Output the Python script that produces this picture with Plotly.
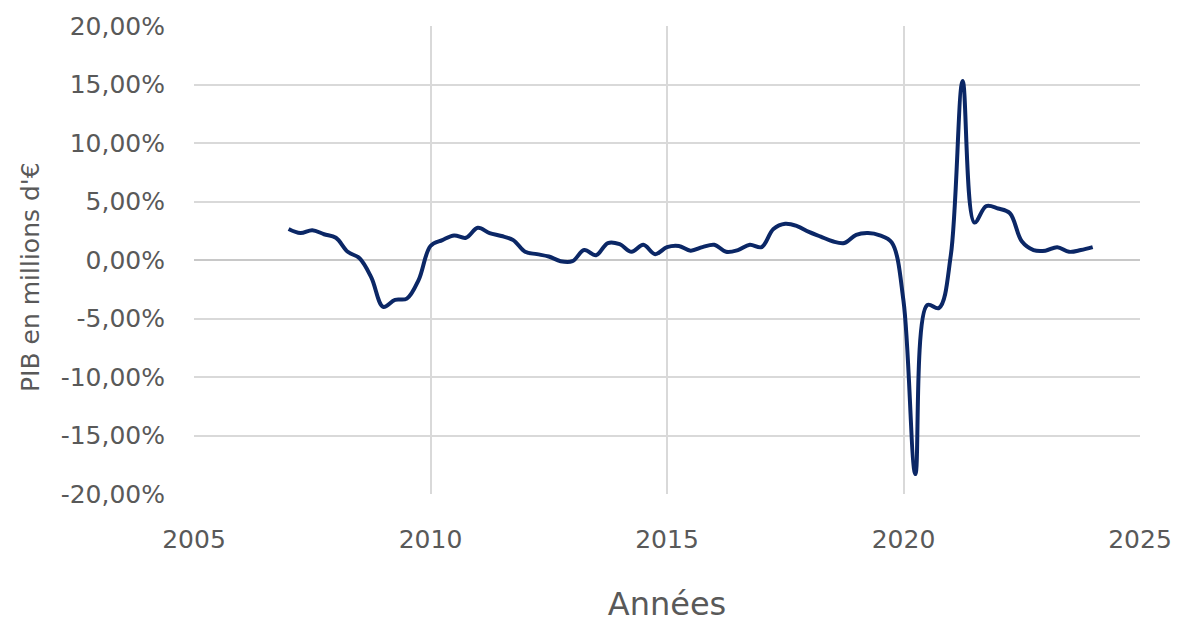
import plotly.graph_objects as go

# Trimestres de 2007 T1 à 2024 T1 (années décimales)
periodes = [a + t / 4 for a in range(2007, 2024) for t in range(4)] + [2024.0]

# Croissance du PIB en glissement annuel (%)
croissance = [
    2.65, 2.3, 2.55, 2.2,      # 2007
    1.9, 0.7, 0.15, -1.5,      # 2008
    -4.0, -3.4, -3.3, -1.7,    # 2009
    1.2, 1.7, 2.1, 1.9,        # 2010
    2.75, 2.3, 2.05, 1.7,      # 2011
    0.7, 0.5, 0.3, -0.1,       # 2012
    -0.1, 0.85, 0.4, 1.45,     # 2013
    1.35, 0.7, 1.3, 0.5,       # 2014
    1.1, 1.2, 0.8, 1.1,        # 2015
    1.3, 0.7, 0.85, 1.3,       # 2016
    1.1, 2.65, 3.1, 2.9,       # 2017
    2.4, 2.0, 1.6, 1.45,       # 2018
    2.15, 2.3, 2.1, 1.5,       # 2019
    -3.5, -18.3, -3.85, -4.1,  # 2020
    0.4, 15.3, 3.2, 4.6,       # 2021
    4.4, 4.0, 1.6, 0.85,       # 2022
    0.8, 1.1, 0.7, 0.85,       # 2023
    1.1,                       # 2024
]

annees_ticks = [2005, 2010, 2015, 2020, 2025]
pct_ticks = [-20, -15, -10, -5, 0, 5, 10, 15, 20]
pct_labels = [f"{v:.2f}%".replace(".", ",") for v in pct_ticks]

police = "DejaVu Sans"
gris_texte = "#595959"
gris_grille = "#d9d9d9"

W, H = 1178, 623
marges = dict(l=194, r=38, t=26, b=129)

fig = go.Figure(
    go.Scatter(
        x=periodes,
        y=croissance,
        mode="lines",
        line=dict(color="#0b2766", width=4, shape="spline", smoothing=1.0),
        hoverinfo="x+y",
    )
)

fig.update_layout(
    width=W,
    height=H,
    margin=marges,
    paper_bgcolor="white",
    plot_bgcolor="white",
    showlegend=False,
    font=dict(family=police, color=gris_texte, size=22),
)

fig.update_xaxes(
    range=[2005, 2025],
    tickvals=annees_ticks,
    ticktext=[str(a) for a in annees_ticks],
    automargin=False,
    showgrid=True,
    gridcolor=gris_grille,
    gridwidth=2,
    zeroline=False,
    showline=False,
    ticks="",
    ticklabelstandoff=28,
    tickfont=dict(family=police, size=25, color=gris_texte),
    title=dict(text="Années", font=dict(family=police, size=32, color=gris_texte), standoff=50),
)

fig.update_yaxes(
    range=[-20, 20],
    tickvals=pct_ticks,
    ticktext=pct_labels,
    automargin=False,
    showgrid=True,
    gridcolor=gris_grille,
    gridwidth=2,
    zeroline=True,
    zerolinecolor="#c8c8c8",
    zerolinewidth=2,
    showline=False,
    ticks="",
    ticklabelstandoff=28,
    tickfont=dict(family=police, size=25, color=gris_texte),
)

# Titre vertical de l'axe des ordonnées
fig.add_annotation(
    text="PIB en millions d'€",
    textangle=-90,
    xref="paper", yref="paper",
    x=-(marges["l"] - 30) / (W - marges["l"] - marges["r"]),
    y=(H - marges["b"] - 277) / (H - marges["t"] - marges["b"]),
    xanchor="center", yanchor="middle",
    showarrow=False,
    font=dict(family=police, size=25, color=gris_texte),
)

fig.write_html("out.html")
